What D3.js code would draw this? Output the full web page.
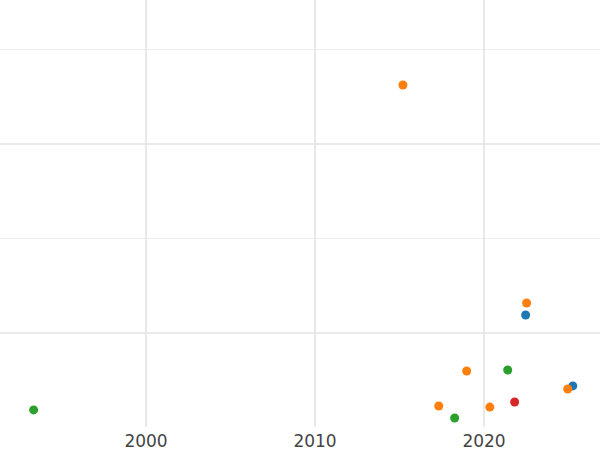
<!DOCTYPE html>
<html>
<head>
<meta charset="utf-8">
<script src="https://cdn.jsdelivr.net/npm/d3@7"></script>
<style>body{margin:0;background:#fff}</style>
</head>
<body>
<div id="chart"></div>
<script>
// data
var years  = [1993.35, 2015.2, 2022.52, 2022.46, 2018.97, 2021.4, 2025.25, 2024.95, 2021.81, 2017.32, 2020.34, 2018.26];
var values = [0.593, 2.312, 1.159, 1.095, 0.799, 0.804, 0.720, 0.704, 0.635, 0.614, 0.608, 0.550];
var groups = ["c", "b", "b", "a", "b", "c", "a", "b", "d", "b", "b", "c"];
var xTicks = [2000, 2010, 2020];
var yMajor = [1, 2];
var yMinor = [1.5, 2.5];

var width = 600, height = 450;
var colors = {a: "#1f77b4", b: "#ff7f0e", c: "#2ca02c", d: "#d62728"};

var svg = d3.select("#chart").append("svg")
    .attr("width", width)
    .attr("height", height);

var x = d3.scaleLinear().domain([1991.36, 2026.86]).range([0, 600]);
var y = d3.scaleLinear().domain([1, 2]).range([333, 144]);

// grid
svg.selectAll("line.minor").data(yMinor).enter().append("line")
    .attr("x1", 0).attr("x2", width)
    .attr("y1", d => y(d)).attr("y2", d => y(d))
    .style("stroke", "#efefef").style("stroke-width", 1);

svg.selectAll("line.major").data(yMajor).enter().append("line")
    .attr("x1", 0).attr("x2", width)
    .attr("y1", d => y(d)).attr("y2", d => y(d))
    .style("stroke", "#e3e3e3").style("stroke-width", 1.6);

svg.selectAll("line.vx").data(xTicks).enter().append("line")
    .attr("x1", d => x(d)).attr("x2", d => x(d))
    .attr("y1", 0).attr("y2", 427)
    .style("stroke", "#e3e3e3").style("stroke-width", 1.6);

// x labels
svg.selectAll("text.xt").data(xTicks).enter().append("text")
    .attr("x", d => x(d)).attr("y", 447)
    .attr("text-anchor", "middle")
    .style("font-family", "DejaVu Sans, sans-serif")
    .style("font-size", "17px")
    .style("fill", "#444")
    .text(d => d);

// points
svg.selectAll("circle").data(years).enter().append("circle")
    .attr("cx", d => x(d))
    .attr("cy", (d, i) => y(values[i]))
    .attr("r", 4.5)
    .style("fill", (d, i) => colors[groups[i]]);
</script>
</body>
</html>
